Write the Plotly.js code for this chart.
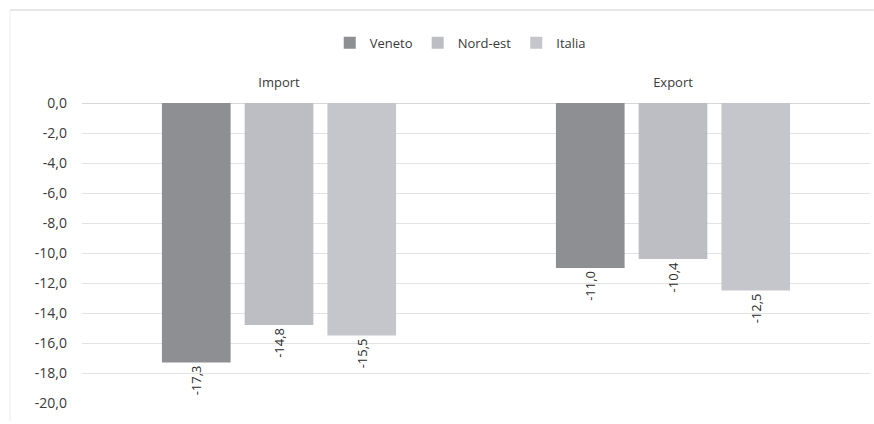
<!DOCTYPE html>
<html>
<head>
<meta charset="utf-8">
<script src="https://cdn.plot.ly/plotly-3.0.1.min.js"></script>
<style>html,body{margin:0;padding:0;background:#fff;}#chart{width:874px;height:424px;}</style>
</head>
<body>
<div id="chart"></div>
<script>
const categories = ["Import", "Export"];
const seriesNames = ["Veneto", "Nord-est", "Italia"];
const veneto = [-17.3, -11.0];
const nordEst = [-14.8, -10.4];
const italia = [-15.5, -12.5];
const yTicks = [0, -2, -4, -6, -8, -10, -12, -14, -16, -18, -20];

const colors = ["#8e8f92", "#bdbec4", "#c5c6cb"];
const values = [veneto, nordEst, italia];

const fmt = v => v.toFixed(1).replace('.', ',');
const FONT = 'Open Sans, sans-serif';

const traces = seriesNames.map((name, i) => ({
  type: 'bar',
  name: name,
  x: categories,
  y: values[i],
  marker: {color: colors[i]},
  text: values[i].map(fmt),
  textposition: 'outside',
  textangle: -90,
  cliponaxis: false,
  textfont: {family: FONT, size: 13, color: '#2a2a2a'},
  hoverinfo: 'skip'
}));

const layout = {
  width: 874, height: 424,
  margin: {l: 82, r: 4, t: 103, b: 21, autoexpand: false},
  paper_bgcolor: '#ffffff',
  plot_bgcolor: '#ffffff',
  barmode: 'group',
  bargap: 0.37,
  bargroupgap: 0.17,
  showlegend: true,
  legend: {
    orientation: 'h', xref: 'paper', x: 0.48, xanchor: 'center',
    yref: 'container', y: 0.899, yanchor: 'middle',
    font: {family: FONT, size: 13, color: '#3a3a3a'},
    itemwidth: 30, traceorder: 'normal'
  },
  xaxis: {
    side: 'top', type: 'category',
    showgrid: false, zeroline: false, showline: false, ticks: '',
    tickfont: {family: FONT, size: 13, color: '#3a3a3a'},
    ticklabelstandoff: 12
  },
  yaxis: {
    range: [-20, 0],
    tickvals: yTicks,
    ticktext: yTicks.map(fmt),
    showgrid: true, gridcolor: '#e2e2e2', gridwidth: 1,
    zeroline: true, zerolinecolor: '#d6d6d6', zerolinewidth: 1,
    showline: false, ticks: '',
    tickfont: {family: FONT, size: 14, color: '#3a3a3a'},
    ticklabelstandoff: 14
  },
  shapes: [
    {type: 'line', xref: 'paper', yref: 'paper', x0: -0.0914, x1: 1.005, y0: 1.31, y1: 1.31,
     line: {color: '#cfcfcf', width: 1}},
    {type: 'line', xref: 'paper', yref: 'paper', x0: -0.0914, x1: -0.0914, y0: 1.31, y1: -0.06,
     line: {color: '#ececec', width: 1}}
  ],
  font: {family: FONT}
};

Plotly.newPlot('chart', traces, layout, {displayModeBar: false, staticPlot: true});
</script>
</body>
</html>
